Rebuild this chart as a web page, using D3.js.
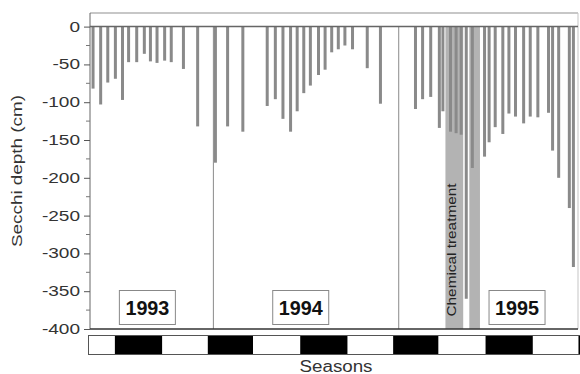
<!DOCTYPE html>
<html>
<head>
<meta charset="utf-8">
<script src="https://cdn.jsdelivr.net/npm/d3@7"></script>
<style>
  body { margin: 0; background: #fff; }
  svg { display: block; font-family: "Liberation Sans", Arial, sans-serif; }
</style>
</head>
<body>
<svg id="chart" width="580" height="374"></svg>
<script>
// sampling dates and Secchi depth (cm, negative = below surface)
const sampleDates = [
  "1993-05-09", "1993-05-24", "1993-06-07", "1993-06-22", "1993-07-06", "1993-07-18",
  "1993-08-03", "1993-08-18", "1993-08-30", "1993-09-12", "1993-09-27", "1993-10-10",
  "1993-11-03", "1993-12-01",
  "1994-01-05", "1994-01-29", "1994-02-28", "1994-04-17", "1994-05-03", "1994-05-18",
  "1994-06-02", "1994-06-15", "1994-06-28", "1994-07-11", "1994-07-27", "1994-08-09",
  "1994-08-22", "1994-09-04", "1994-09-17", "1994-10-02", "1994-10-31", "1994-11-26",
  "1995-02-03", "1995-02-17", "1995-03-05", "1995-03-22", "1995-03-29", "1995-04-13",
  "1995-04-24", "1995-05-04", "1995-05-14", "1995-05-26", "1995-06-19", "1995-06-28",
  "1995-07-10", "1995-07-25", "1995-08-06", "1995-08-19", "1995-09-04", "1995-09-17",
  "1995-10-02", "1995-10-23", "1995-10-31", "1995-11-12", "1995-12-03", "1995-12-11"
];
const secchiDepth = [
  -82, -103, -74, -69, -97, -47,
  -47, -36, -46, -48, -45, -47,
  -56, -132,
  -180, -132, -139, -105, -96, -122,
  -139, -112, -88, -78, -64, -57,
  -34, -30, -25, -30, -55, -102,
  -109, -96, -93, -134, -112, -139,
  -141, -143, -360, -187, -172, -153,
  -133, -142, -115, -119, -128, -119,
  -120, -114, -164, -200, -240, -318
];

const yearLabels = ["1993", "1994", "1995"];
const yearLabelDates = ["1993-08-24", "1994-06-22", "1995-08-22"];
const yearStarts = ["1994-01-01", "1995-01-01"];

const treatmentStart = ["1995-04-03", "1995-05-20"];
const treatmentEnd = ["1995-05-08", "1995-06-10"];

// summer and winter blocks of the season strip
const darkSeasonStart = ["1993-06-21", "1993-12-21", "1994-06-21", "1994-12-21", "1995-06-21", "1995-12-21"];
const darkSeasonEnd = ["1993-09-22", "1994-03-20", "1994-09-22", "1995-03-20", "1995-09-22", "1996-03-20"];

const yTicks = [0, -50, -100, -150, -200, -250, -300, -350, -400];
const yMinorTicks = [-25, -75, -125, -175, -225, -275, -325, -375];

const parse = d3.timeParse("%Y-%m-%d");
const svg = d3.select("#chart");

const x = d3.scaleTime()
  .domain([parse("1993-05-03"), parse("1995-12-24")])
  .range([90, 580]);

const y = d3.scaleLinear()
  .domain([-400, 18])
  .range([329, 13]);

// the source picture is stretched sideways, so widen text to match
function stretch(sel, k) {
  sel.each(function() {
    const w = this.getComputedTextLength();
    d3.select(this).attr("textLength", w * k).attr("lengthAdjust", "spacingAndGlyphs");
  });
}

// chemical treatment periods
svg.append("g").selectAll("rect")
  .data(treatmentStart)
  .enter().append("rect")
  .attr("x", (d, i) => x(parse(d)))
  .attr("y", y(0))
  .attr("width", (d, i) => x(parse(treatmentEnd[i])) - x(parse(d)))
  .attr("height", y(-400) - y(0))
  .attr("fill", "#b3b3b3");

// year separators
svg.append("g").selectAll("line")
  .data(yearStarts)
  .enter().append("line")
  .attr("x1", d => x(parse(d))).attr("x2", d => x(parse(d)))
  .attr("y1", y(0)).attr("y2", y(-400))
  .attr("stroke", "#8a8a8a");

// bars
svg.append("g").selectAll("rect")
  .data(sampleDates)
  .enter().append("rect")
  .attr("x", d => x(parse(d)) - 1.5)
  .attr("y", y(0))
  .attr("width", 3)
  .attr("height", (d, i) => y(secchiDepth[i]) - y(0))
  .attr("fill", "#8a8a8a");

// frame
svg.append("line").attr("x1", 90).attr("x2", 578).attr("y1", 13).attr("y2", 13)
  .attr("stroke", "#b5b5b5").attr("stroke-width", 1.5);
svg.append("line").attr("x1", 578).attr("x2", 578).attr("y1", 13).attr("y2", y(-400))
  .attr("stroke", "#c5c5c5");
svg.append("line").attr("x1", 90).attr("x2", 578).attr("y1", y(0)).attr("y2", y(0))
  .attr("stroke", "#666").attr("stroke-width", 1.5);
svg.append("line").attr("x1", 90).attr("x2", 90).attr("y1", 13).attr("y2", y(-400))
  .attr("stroke", "#666");
svg.append("line").attr("x1", 90).attr("x2", 578).attr("y1", y(-400)).attr("y2", y(-400))
  .attr("stroke", "#333").attr("stroke-width", 1.5);

// y axis
const yAxis = svg.append("g")
  .attr("transform", "translate(90,0)")
  .call(d3.axisLeft(y).tickValues(yTicks).tickFormat(d => String(d)).tickSize(6).tickPadding(4));
yAxis.attr("font-size", 14).attr("font-family", null);
yAxis.select(".domain").remove();
yAxis.selectAll(".tick line").attr("stroke", "#555");
yAxis.selectAll(".tick text").attr("fill", "#333").call(stretch, 1.36);

svg.append("g").selectAll("line")
  .data(yMinorTicks)
  .enter().append("line")
  .attr("x1", 86).attr("x2", 90)
  .attr("y1", d => y(d)).attr("y2", d => y(d))
  .attr("stroke", "#777");

svg.append("text")
  .attr("transform", "translate(22,171) rotate(-90)")
  .attr("text-anchor", "middle")
  .attr("font-size", 15)
  .attr("fill", "#333")
  .attr("textLength", 152)
  .attr("lengthAdjust", "spacingAndGlyphs")
  .text("Secchi depth (cm)");

// treatment label
svg.append("text")
  .attr("transform", `translate(${x(parse(treatmentStart[0])) + 11},250) rotate(-90)`)
  .attr("text-anchor", "middle")
  .attr("font-size", 12)
  .attr("fill", "#222")
  .attr("textLength", 133)
  .attr("lengthAdjust", "spacingAndGlyphs")
  .text("Chemical treatment");

// year boxes
const yearG = svg.append("g").selectAll("g")
  .data(yearLabels)
  .enter().append("g")
  .attr("transform", (d, i) => `translate(${x(parse(yearLabelDates[i]))},0)`);
yearG.append("rect")
  .attr("x", -28).attr("y", 290.5)
  .attr("width", 56).attr("height", 34)
  .attr("fill", "#fff").attr("stroke", "#888");
yearG.append("text")
  .attr("y", 315)
  .attr("text-anchor", "middle")
  .attr("font-size", 20)
  .attr("font-weight", "bold")
  .attr("fill", "#111")
  .attr("textLength", 44)
  .attr("lengthAdjust", "spacingAndGlyphs")
  .text(d => d);

// season strip
svg.append("rect")
  .attr("x", 88.5).attr("y", 335.5)
  .attr("width", 491).attr("height", 19)
  .attr("fill", "#fff").attr("stroke", "#555");
svg.append("g").selectAll("rect")
  .data(darkSeasonStart)
  .enter().append("rect")
  .attr("x", d => x(parse(d)))
  .attr("y", 336)
  .attr("width", (d, i) => Math.min(x(parse(darkSeasonEnd[i])), 580) - x(parse(d)))
  .attr("height", 18)
  .attr("fill", "#000");

svg.append("text")
  .attr("x", 336).attr("y", 372)
  .attr("text-anchor", "middle")
  .attr("font-size", 16)
  .attr("fill", "#333")
  .attr("textLength", 73)
  .attr("lengthAdjust", "spacingAndGlyphs")
  .text("Seasons");
</script>
</body>
</html>
